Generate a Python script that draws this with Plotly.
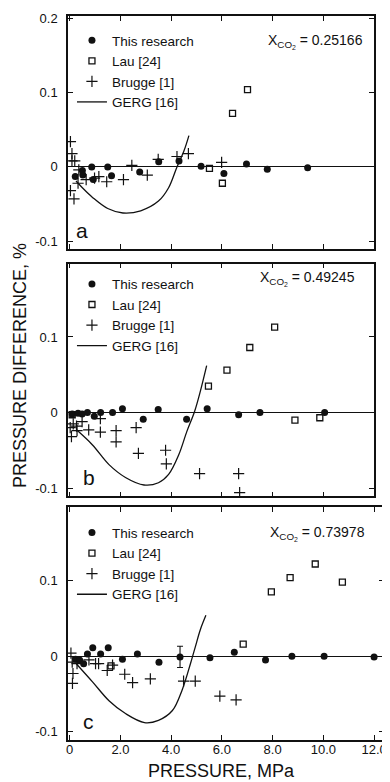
import plotly.graph_objects as go

# ---------------- data ----------------
# Panel a  (X_CO2 = 0.25166)
a_this_p = [0.22, 0.50, 0.52, 0.87, 0.93, 1.50, 1.65, 2.76, 3.51, 4.31, 5.18, 6.08, 6.97, 7.79, 9.38]
a_this_d = [-0.013, -0.005, -0.011, 0.000, -0.017, 0.000, -0.012, -0.007, 0.007, 0.008, 0.001, -0.009, 0.004, -0.003, -0.001]
a_lau_p = [5.51, 6.02, 6.42, 7.01]
a_lau_d = [-0.002, -0.022, 0.072, 0.104]
a_bru_p = [0.03, 0.09, 0.09, 0.20, 0.03, 0.17, 0.33, 0.36, 0.65, 0.98, 1.15, 1.46, 2.12, 2.45, 3.06, 3.49, 4.23, 4.68, 5.99]
a_bru_d = [0.034, 0.018, 0.008, 0.008, -0.032, -0.043, -0.022, -0.004, -0.017, -0.015, -0.013, -0.020, -0.017, 0.002, -0.011, 0.010, 0.014, 0.018, 0.006]
a_gerg_p = [0.25, 0.5, 0.9, 1.5, 2.1, 2.8, 3.5, 3.9, 4.23, 4.5, 4.7]
a_gerg_d = [-0.019, -0.028, -0.041, -0.056, -0.062, -0.059, -0.046, -0.028, 0.000, 0.021, 0.042]

# Panel b  (X_CO2 = 0.49245)
b_this_p = [0.10, 0.33, 0.49, 0.70, 0.97, 1.22, 1.69, 2.08, 2.90, 3.49, 4.61, 5.42, 6.66, 7.50, 10.05]
b_this_d = [-0.002, -0.001, -0.002, 0.000, -0.005, 0.000, 0.000, 0.005, -0.009, 0.004, -0.009, 0.005, -0.003, 0.000, 0.000]
b_lau_p = [0.10, 5.47, 6.20, 7.10, 8.08, 8.88, 9.86]
b_lau_d = [-0.003, 0.035, 0.056, 0.086, 0.113, -0.010, -0.007]
b_bru_p = [0.02, 0.07, 0.14, 0.27, 0.29, 0.49, 0.75, 1.21, 1.21, 1.83, 1.83, 2.62, 2.71, 3.78, 3.81, 5.12, 6.66, 6.70]
b_bru_d = [-0.020, -0.032, -0.015, -0.018, -0.024, -0.012, -0.023, -0.008, -0.026, -0.024, -0.039, -0.020, -0.054, -0.050, -0.068, -0.081, -0.081, -0.106]
b_gerg_p = [0.27, 0.9, 1.55, 2.2, 2.93, 3.5, 3.9, 4.3, 4.62, 4.92, 5.15, 5.40]
b_gerg_d = [-0.023, -0.043, -0.069, -0.086, -0.096, -0.093, -0.082, -0.056, -0.025, 0.001, 0.028, 0.062]

# Panel c  (X_CO2 = 0.73978)
c_this_p = [0.23, 0.39, 0.55, 0.70, 0.91, 1.22, 1.52, 2.08, 2.67, 3.52, 5.53, 6.49, 7.72, 8.76, 10.03, 12.0]
c_this_d = [-0.004, -0.005, -0.010, 0.003, 0.011, 0.003, 0.011, -0.004, 0.003, -0.008, -0.002, 0.005, -0.005, 0.000, 0.000, -0.001]
c_err_p = [4.35]
c_err_d = [-0.001]
c_err_u = [0.014]
c_lau_p = [1.63, 6.84, 7.95, 8.69, 9.68, 10.75]
c_lau_d = [-0.013, 0.016, 0.085, 0.104, 0.122, 0.098]
c_bru_p = [0.05, 0.10, 0.13, 0.11, 0.29, 0.76, 1.02, 1.14, 1.48, 1.69, 2.17, 2.48, 3.18, 4.49, 4.95, 5.92, 6.56]
c_bru_d = [0.004, -0.008, -0.023, -0.036, -0.010, -0.005, -0.010, -0.010, -0.019, -0.012, -0.024, -0.035, -0.030, -0.033, -0.033, -0.053, -0.058]
c_gerg_p = [0.26, 0.9, 1.55, 2.2, 2.95, 3.5, 4.05, 4.43, 4.76, 4.95, 5.15, 5.37]
c_gerg_d = [-0.010, -0.034, -0.059, -0.076, -0.088, -0.085, -0.072, -0.045, -0.010, 0.012, 0.035, 0.054]

x_tickvals = [0, 2, 4, 6, 8, 10, 12]
x_ticktext = ["0", "2.0", "4.0", "6.0", "8.0", "10.0", "12.0"]
y_tickvals = [-0.1, 0, 0.1, 0.2]
y_ticktext = ["-0.1", "0", "0.1", "0.2"]
panel_letters = ["a", "b", "c"]
xco2_labels = ["0.25166", "0.49245", "0.73978"]
series_names = ["This research", "Lau [24]", "Brugge [1]", "GERG [16]"]

FONT = "Liberation Sans, Arial, Helvetica, sans-serif"
BLACK = "#111111"

fig = go.Figure()

panels = [
    (a_this_p, a_this_d, a_lau_p, a_lau_d, a_bru_p, a_bru_d, a_gerg_p, a_gerg_d),
    (b_this_p, b_this_d, b_lau_p, b_lau_d, b_bru_p, b_bru_d, b_gerg_p, b_gerg_d),
    (c_this_p, c_this_d, c_lau_p, c_lau_d, c_bru_p, c_bru_d, c_gerg_p, c_gerg_d),
]

for i, (tp, td, lp, ld, bp, bd, gp, gd) in enumerate(panels):
    xa = "x" if i == 0 else f"x{i+1}"
    ya = "y" if i == 0 else f"y{i+1}"
    lg = "legend" if i == 0 else f"legend{i+1}"
    fig.add_trace(go.Scatter(x=tp, y=td, mode="markers", name=series_names[0],
                             marker=dict(symbol="circle", size=7, color=BLACK),
                             xaxis=xa, yaxis=ya, legend=lg, cliponaxis=False))
    fig.add_trace(go.Scatter(x=lp, y=ld, mode="markers", name=series_names[1],
                             marker=dict(symbol="square-open", size=6, color=BLACK,
                                         line=dict(width=1.3, color=BLACK)),
                             xaxis=xa, yaxis=ya, legend=lg))
    fig.add_trace(go.Scatter(x=bp, y=bd, mode="markers", name=series_names[2],
                             marker=dict(symbol="cross-thin", size=8, color=BLACK,
                                         line=dict(width=1.2, color=BLACK)),
                             xaxis=xa, yaxis=ya, legend=lg))
    fig.add_trace(go.Scatter(x=gp, y=gd, mode="lines", name=series_names[3],
                             line=dict(color=BLACK, width=1.3, shape="spline", smoothing=1.0),
                             xaxis=xa, yaxis=ya, legend=lg))
    if i == 2:
        fig.add_trace(go.Scatter(x=c_err_p, y=c_err_d, mode="markers", showlegend=False,
                                 marker=dict(symbol="circle", size=7, color=BLACK),
                                 error_y=dict(type="data", array=c_err_u, visible=True,
                                              color=BLACK, thickness=1.1, width=3),
                                 xaxis=xa, yaxis=ya))

# ---------------- layout ----------------
# page has a default 8px body margin; work in page pixels and convert
OFF = 8
W, H = 390 - OFF, 782 - OFF
L, R, T, B = 68 - OFF, 3, 15 - OFF, 42
pw = W - L - R
ph = H - T - B

def px_x(px):
    return (px - OFF - L) / pw

def px_y(py):
    return (H - B - (py - OFF)) / ph

y_domains = [[px_y(248), 1.0], [px_y(496), px_y(263)], [0.0, px_y(507)]]
x_right = [px_x(377), px_x(377), 1.0]
k = (377 - 68) / 12.066
x_ranges = [[-0.066, 12.0], [-0.066, 12.0], [-0.066, 12.0 + 10 / k]]
y_ranges = [[-0.110, 0.203], [-0.111, 0.197], [-0.111, 0.197]]

axis_common = dict(showline=True, linecolor=BLACK, linewidth=1.5, mirror="ticks",
                   ticks="inside", ticklen=5, tickwidth=1.2, tickcolor=BLACK,
                   showgrid=False, tickfont=dict(family=FONT, size=13, color=BLACK))

layout = dict(width=W, height=H, margin=dict(l=L, r=R, t=T, b=B),
              paper_bgcolor="white", plot_bgcolor="white",
              font=dict(family=FONT, color=BLACK))

for i in range(3):
    xk = "xaxis" if i == 0 else f"xaxis{i+1}"
    yk = "yaxis" if i == 0 else f"yaxis{i+1}"
    ya = "y" if i == 0 else f"y{i+1}"
    xa = "x" if i == 0 else f"x{i+1}"
    layout[xk] = dict(axis_common, domain=[0, x_right[i]], range=x_ranges[i], anchor=ya,
                      tickvals=x_tickvals, ticktext=x_ticktext, zeroline=False,
                      showticklabels=(i == 2), ticklabelstandoff=-3)
    layout[yk] = dict(axis_common, domain=y_domains[i], range=y_ranges[i], anchor=xa,
                      tickvals=y_tickvals, ticktext=y_ticktext,
                      zeroline=True, zerolinecolor=BLACK, zerolinewidth=1.4,
                      ticklabelstandoff=6)

legend_tops = [24, 268, 517]
for i in range(3):
    lk = "legend" if i == 0 else f"legend{i+1}"
    layout[lk] = dict(x=px_x(72), y=px_y(legend_tops[i]), xanchor="left", yanchor="top",
                      bgcolor="rgba(0,0,0,0)", borderwidth=0,
                      font=dict(family=FONT, size=13.5, color=BLACK),
                      itemwidth=30, tracegroupgap=0)

annotations = []
xco2_pos = [(368, 41), (360, 278), (370, 533)]
for i in range(3):
    xr, yc = xco2_pos[i]
    annotations.append(dict(xref="paper", yref="paper", x=px_x(xr), y=px_y(yc),
                            xanchor="right", yanchor="middle", showarrow=False,
                            text=f"X<sub>CO<sub>2</sub></sub> = {xco2_labels[i]}",
                            font=dict(family=FONT, size=14, color=BLACK)))
letter_pos = [(82, 230), (89, 477), (89, 721)]
for i in range(3):
    xc, yc = letter_pos[i]
    annotations.append(dict(xref="paper", yref="paper", x=px_x(xc), y=px_y(yc),
                            xanchor="center", yanchor="middle", showarrow=False,
                            text=panel_letters[i],
                            font=dict(family=FONT, size=21, color=BLACK)))
annotations.append(dict(xref="paper", yref="paper", x=px_x(223), y=px_y(771),
                        xanchor="center", yanchor="middle", showarrow=False,
                        text="PRESSURE, MPa", font=dict(family=FONT, size=18, color=BLACK)))
annotations.append(dict(xref="paper", yref="paper", x=px_x(19), y=px_y(365),
                        xanchor="center", yanchor="middle", showarrow=False, textangle=-90,
                        text="PRESSURE DIFFERENCE, %", font=dict(family=FONT, size=18, color=BLACK)))
layout["annotations"] = annotations

fig.update_layout(**layout)
fig.write_html("out.html")
